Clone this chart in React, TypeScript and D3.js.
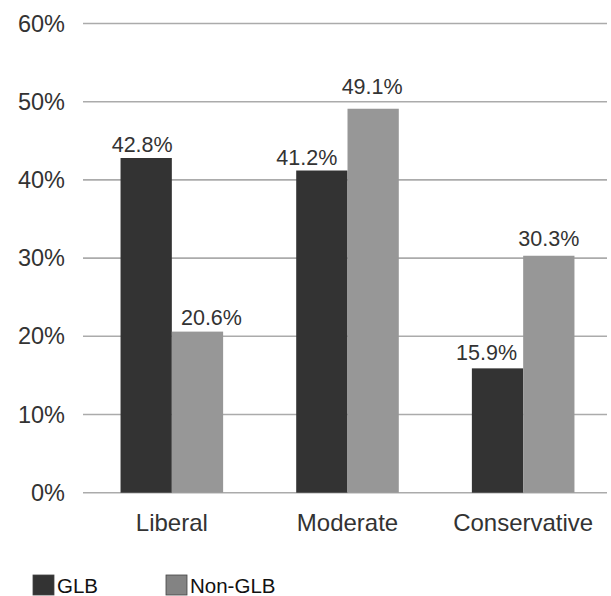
import React from "react";
import * as d3 from "d3";

const categories = ["Liberal", "Moderate", "Conservative"];
const seriesNames = ["GLB", "Non-GLB"];
const glbValues = [42.8, 41.2, 15.9];
const nonGlbValues = [20.6, 49.1, 30.3];
const yTicks = [0, 10, 20, 30, 40, 50, 60];

const W = 611;
const H = 596;
const FONT = "'Liberation Sans', Arial, Helvetica, sans-serif";
const COLORS = ["#333333", "#979797"];
const LEGEND_COLORS = ["#333333", "#838383"];
// label nudges (layout only): [series][category] -> [dx, gap above bar]
const LABEL_LAYOUT = [
  [[-4, 13], [-15, 13], [-11, 15]],
  [[14, 14], [-1, 22], [0, 17]],
];

export default function App() {
  const x = d3
    .scaleBand<string>()
    .domain(categories)
    .range([84, 611])
    .paddingInner(0.416)
    .paddingOuter(0.208);
  const xInner = d3
    .scaleBand<string>()
    .domain(seriesNames)
    .range([0, x.bandwidth()]);
  const y = d3.scaleLinear().domain([0, 60]).range([492.7, 23.5]);

  const series = [glbValues, nonGlbValues];

  return (
    <svg
      width={W}
      height={H}
      style={{ position: "absolute", left: 0, top: 0, background: "#fff" }}
      fontFamily={FONT}
    >
      <rect x={0} y={0} width={W} height={H} fill="#fff" />
      {yTicks.map((t) => (
        <g key={t}>
          <line
            x1={83}
            x2={607}
            y1={y(t)}
            y2={y(t)}
            stroke="#ababab"
            strokeWidth={1.6}
          />
          <text
            x={65}
            y={y(t)}
            textAnchor="end"
            dominantBaseline="central"
            fontSize={23.5}
            fill="#333"
          >
            {t}%
          </text>
        </g>
      ))}
      {categories.map((c, i) =>
        series.map((vals, s) => {
          const bx = (x(c) ?? 0) + (xInner(seriesNames[s]) ?? 0);
          const bw = xInner.bandwidth();
          const v = vals[i];
          const [dx, gap] = LABEL_LAYOUT[s][i];
          return (
            <g key={c + s}>
              <rect
                x={bx}
                y={y(v)}
                width={bw}
                height={y(0) - y(v)}
                fill={COLORS[s]}
              />
              <text
                x={bx + bw / 2 + dx}
                y={y(v) - gap}
                textAnchor="middle"
                dominantBaseline="central"
                fontSize={21.5}
                fill="#333"
              >
                {v.toFixed(1)}%
              </text>
            </g>
          );
        })
      )}
      {categories.map((c) => (
        <text
          key={c}
          x={(x(c) ?? 0) + x.bandwidth() / 2}
          y={531}
          textAnchor="middle"
          fontSize={24}
          fill="#333"
        >
          {c}
        </text>
      ))}
      {seriesNames.map((n, s) => {
        const lx = [33, 166][s];
        return (
          <g key={n}>
            <rect
              x={lx}
              y={575}
              width={21}
              height={20}
              fill={LEGEND_COLORS[s]}
              stroke="#444"
              strokeWidth={0.8}
            />
            <text x={lx + 24} y={592.5} fontSize={20.5} fill="#111">
              {n}
            </text>
          </g>
        );
      })}
    </svg>
  );
}
